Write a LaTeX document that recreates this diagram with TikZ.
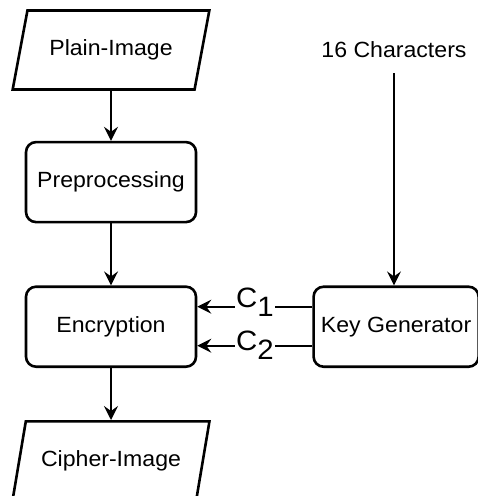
\documentclass[tikz,border=0pt]{standalone}
\usepackage{fontspec}
\setmainfont{Liberation Sans}[FakeStretch=1.05]
\usetikzlibrary{positioning}
\usetikzlibrary{arrows.meta}
\usetikzlibrary{shapes.geometric}

\begin{document}
\begin{tikzpicture}[x=1pt, y=-1pt, font=\fontsize{22}{26}\selectfont,
	->, >={Stealth[length=14pt,width=14pt,inset=5pt]}, line width=1.8pt,
	box/.style={draw, line width=2.6pt, rounded corners=10pt, minimum width=170pt, minimum height=80pt, inner sep=0pt},
	io/.style={draw, line width=2.6pt, trapezium, trapezium left angle=62, trapezium right angle=118,
		trapezium stretches=true, minimum width=197pt, minimum height=79pt, inner sep=0pt},
	lbl/.style={fill=white, inner sep=1pt, font=\fontsize{28}{30}\selectfont}]
		\useasboundingbox (0,0) rectangle (478,496);
		\node (plain) [io] at (111,50) {Plain-Image};
		\node (prep) [box, below=50pt of plain] {Preprocessing};
		\node (enc) [box, below=62pt of prep] {Encryption};
		\node (cipher) [io, below=52pt of enc] {Cipher-Image};
		\node (keygen) [box, right=115pt of enc, minimum width=165pt] {Key Generator};
		\node (chars) at (394,50) {16 Characters};
		\draw (plain) -> (prep);
		\draw (prep) -> (enc);
		\draw (enc) -> (cipher);
		\draw [shorten <=11pt] (chars) -> (chars |- keygen.north);
		\draw ([yshift=20pt]keygen.west) -> node[lbl, yshift=4pt] {C\raisebox{-9pt}{1}} ([yshift=20pt]enc.east);
		\draw ([yshift=-19pt]keygen.west) -> node[lbl] {C\raisebox{-9pt}{2}} ([yshift=-19pt]enc.east);
		\end{tikzpicture}
\end{document}
